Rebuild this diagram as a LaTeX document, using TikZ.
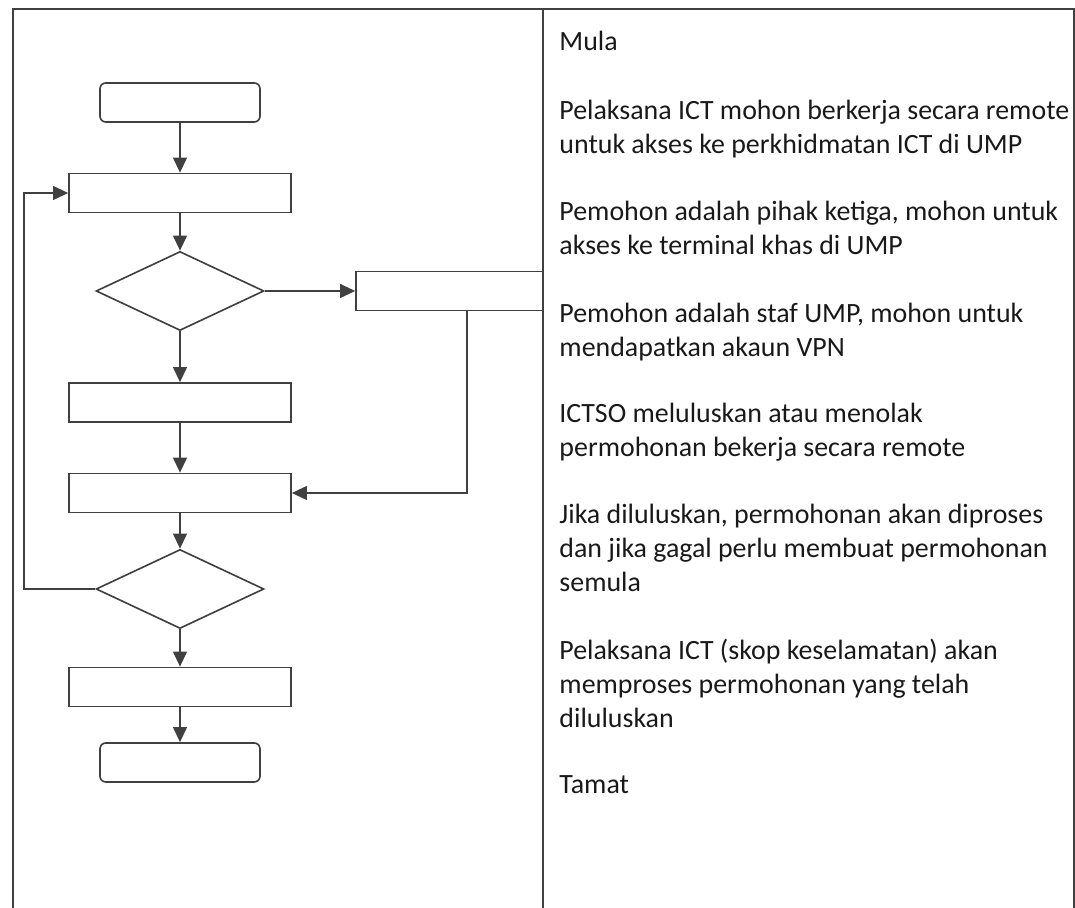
\documentclass[tikz,border=0pt]{standalone}
\usepackage{fontspec}
\setmainfont{Carlito}
\usepackage{tikz}
\usetikzlibrary{shapes.geometric,arrows.meta,positioning,calc}

\begin{document}
\begin{tikzpicture}[
    x=0.43pt, y=-0.43pt,
    frame/.style={draw=black!75, line width=0.9pt},
    box/.style={rectangle, draw=black!75, line width=0.7pt, minimum width=95.5pt, minimum height=16.8pt, inner sep=0pt},
    term/.style={box, rounded corners=2.5pt, minimum width=68.8pt},
    choice/.style={diamond, draw=black!75, line width=0.7pt, minimum width=72.2pt, minimum height=34pt, inner sep=0pt},
    arrow/.style={-{Triangle[length=6.5pt, width=6pt]}, line width=0.7pt, draw=black!75},
    desc/.style={anchor=north west, align=left, inner sep=0pt, text=black!90, font=\fontsize{12}{14.5}\selectfont}
]
    \useasboundingbox (0,0) rectangle (1075,908);

    % table frame
    \draw [frame] (13,908) -- (13,9) -- (1075,9);
    \draw [frame] (543,9) -- (543,908);
    \draw [frame] (1074,9) -- (1074,908);

    % flowchart
    \node [term] (mula) at (180,102.5) {};
    \node [box] (ict) at (180,193) {};
    \node [choice] (pilih) at (180,291) {};
    \node [box, minimum width=80.4pt] (pihak) at (449.5,291) {};
    \node [box] (staf) at (180,402.5) {};
    \node [box] (ictso) at (180,493) {};
    \node [choice] (lulus) at (180,589) {};
    \node [box] (proses) at (180,687) {};
    \node [term] (tamat) at (180,762.5) {};

    \draw [arrow] (mula) -- (ict);
    \draw [arrow] (ict) -- (pilih);
    \draw [arrow] (pilih) -- (pihak);
    \draw [arrow] (pilih) -- (staf);
    \draw [arrow] (staf) -- (ictso);
    \draw [arrow] ([xshift=7.5pt]pihak.south) |- (ictso);
    \draw [arrow] (ictso) -- (lulus);
    \draw [arrow] (lulus.west) -- ++(-71,0) |- (ict);
    \draw [arrow] (lulus) -- (proses);
    \draw [arrow] (proses) -- (tamat);

    % keterangan
    \node [desc] (t1) at (559,31) {Mula};
    \node [desc] (t2) at (559,100) {Pelaksana ICT mohon berkerja secara remote\\untuk akses ke perkhidmatan ICT di UMP};
    \node [desc] (t3) at (559,201) {Pemohon adalah pihak ketiga, mohon untuk\\akses ke terminal khas di UMP};
    \node [desc] (t4) at (559,303) {Pemohon adalah staf UMP, mohon untuk\\mendapatkan akaun VPN};
    \node [desc] (t5) at (559,403) {ICTSO meluluskan atau menolak\\permohonan bekerja secara remote};
    \node [desc] (t6) at (559,504) {Jika diluluskan, permohonan akan diproses\\dan jika gagal perlu membuat permohonan\\semula};
    \node [desc] (t7) at (559,639) {Pelaksana ICT (skop keselamatan) akan\\memproses permohonan yang telah\\diluluskan};
    \node [desc] (t8) at (559,775) {Tamat};
\end{tikzpicture}
\end{document}
